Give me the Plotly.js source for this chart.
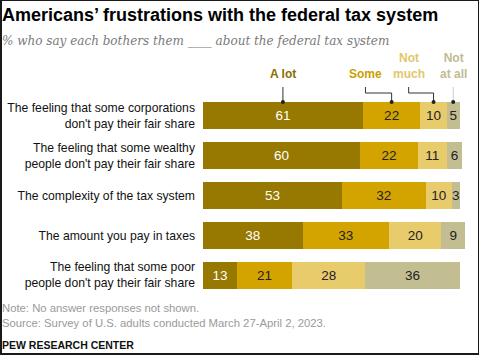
<!DOCTYPE html>
<html>
<head>
<meta charset="utf-8">
<script src="https://cdn.plot.ly/plotly-3.0.1.min.js"></script>
<style>
html,body{margin:0;padding:0;background:#fff;}
#wrap{position:relative;width:479px;height:355px;}
#chart{width:479px;height:355px;}
#frame{position:absolute;left:0;top:0;width:479px;height:355px;box-sizing:border-box;border:1px solid #1a1a1a;border-left-width:2px;border-bottom-width:2px;pointer-events:none;}
</style>
</head>
<body>
<div id="wrap"><div id="chart"></div><div id="frame"></div></div>
<script>
const categories = [
  "The feeling that some corporations<br>don't pay their fair share",
  "The feeling that some wealthy<br>people don't pay their fair share",
  "The complexity of the tax system",
  "The amount you pay in taxes",
  "The feeling that some poor<br>people don't pay their fair share"
];
const seriesNames = ["A lot", "Some", "Not much", "Not at all"];
const aLot     = [61, 60, 53, 38, 13];
const some     = [22, 22, 32, 33, 21];
const notMuch  = [10, 11, 10, 20, 28];
const notAtAll = [5, 6, 3, 9, 36];
const legendLabels = ["A lot", "Some", "Not<br>much", "Not<br>at all"];

const series = [aLot, some, notMuch, notAtAll];
const barColors = ["#977800", "#d3a400", "#e8cb6b", "#c3bd92"];
const textColors = ["#ffffff", "#222222", "#222222", "#222222"];
const labelColors = ["#8a6d00", "#caa000", "#e2c76c", "#c2bb92"];

const traces = series.map((vals, i) => ({
  type: "bar",
  orientation: "h",
  name: seriesNames[i],
  y: categories,
  x: vals,
  marker: {color: barColors[i], line: {width: 0}},
  text: vals.map(String),
  textposition: "inside",
  insidetextanchor: "middle",
  textangle: 0,
  constraintext: "none",
  textfont: {family: "Liberation Sans, Arial, sans-serif", size: 13.5, color: textColors[i]},
  hoverinfo: "none"
}));

// centers of the first bar's segments (data-derived)
const first = series.map(s => s[0]);
const centers = [];
let acc = 0;
first.forEach(v => { centers.push(acc + v / 2); acc += v; });

// pixel -> paper y helper (plot area top=96, bottom=295)
const plotTop = 96, plotBot = 295;
const py = px => (plotBot - px) / (plotBot - plotTop);

const annLabelX = [centers[0], centers[1] - 10, centers[2] - 9.5, centers[3]];
const annotations = [];
annotations.push({xref: "paper", yref: "paper", x: -0.775, y: py(15), xanchor: "left", yanchor: "middle",
  text: "<b>Americans\u2019 frustrations with the federal tax system</b>", showarrow: false,
  font: {family: "Liberation Sans, Arial, sans-serif", size: 18, color: "#000"}});
annotations.push({xref: "paper", yref: "paper", x: -0.775, y: py(41), xanchor: "left", yanchor: "middle",
  text: "<i>% who say each bothers them ____ about the federal tax system</i>", showarrow: false,
  font: {family: "DejaVu Serif, serif", size: 12, color: "#7a7a7a"}});
legendLabels.forEach((t, i) => {
  annotations.push({xref: "x", yref: "paper", x: annLabelX[i], y: py(83), xanchor: "center", yanchor: "bottom",
    text: "<b>" + t + "</b>", showarrow: false,
    font: {family: "Liberation Sans, Arial, sans-serif", size: 12, color: labelColors[i]}});
});
annotations.push({xref: "paper", yref: "paper", x: -0.775, y: py(308), xanchor: "left", yanchor: "middle",
  text: "Note: No answer responses not shown.", showarrow: false,
  font: {family: "Liberation Sans, Arial, sans-serif", size: 11.3, color: "#9a9a9a"}});
annotations.push({xref: "paper", yref: "paper", x: -0.775, y: py(323), xanchor: "left", yanchor: "middle",
  text: "Source: Survey of U.S. adults conducted March 27-April 2, 2023.", showarrow: false,
  font: {family: "Liberation Sans, Arial, sans-serif", size: 11.3, color: "#9a9a9a"}});
annotations.push({xref: "paper", yref: "paper", x: -0.775, y: py(345), xanchor: "left", yanchor: "middle",
  text: "<b>PEW RESEARCH CENTER</b>", showarrow: false,
  font: {family: "Liberation Sans, Arial, sans-serif", size: 10.5, color: "#111"}});

const lineStyle = {color: "#333", width: 1};
const shapes = [];
shapes.push({type: "line", xref: "x", yref: "paper", x0: centers[0], x1: centers[0], y0: py(87), y1: py(102), line: lineStyle});
shapes.push({type: "path", xref: "x", yref: "paper",
  path: `M ${annLabelX[1]} ${py(87)} L ${annLabelX[1]} ${py(93)} L ${centers[1]} ${py(93)} L ${centers[1]} ${py(102)}`,
  line: lineStyle});
shapes.push({type: "path", xref: "x", yref: "paper",
  path: `M ${annLabelX[2]} ${py(87)} L ${annLabelX[2]} ${py(93)} L ${centers[2]} ${py(93)} L ${centers[2]} ${py(102)}`,
  line: lineStyle});
shapes.push({type: "line", xref: "x", yref: "paper", x0: centers[3], x1: centers[3], y0: py(87), y1: py(102), line: {color: "#cccccc", width: 1}});
centers.forEach(c => {
  shapes.push({type: "circle", xref: "x", yref: "paper", xsizemode: "pixel", ysizemode: "pixel",
    xanchor: c, yanchor: py(102), x0: -2, x1: 2, y0: -2, y1: 2,
    fillcolor: "#222", line: {width: 0}});
});

const layout = {
  width: 479, height: 355,
  margin: {l: 203, r: 14, t: plotTop, b: 355 - plotBot, pad: 0},
  barmode: "stack",
  bargap: 0.32,
  showlegend: false,
  paper_bgcolor: "#fff",
  plot_bgcolor: "#fff",
  xaxis: {range: [0, 100], showgrid: false, zeroline: false, showticklabels: false, ticks: "", fixedrange: true},
  yaxis: {autorange: "reversed", showgrid: false, zeroline: false, ticks: "", ticklabelstandoff: 7,
    automargin: false,
    tickfont: {family: "Liberation Sans, Arial, sans-serif", size: 12.2, color: "#111"}},
  annotations: annotations,
  shapes: shapes,
  uniformtext: {mode: false}
};

Plotly.newPlot("chart", traces, layout, {displayModeBar: false, staticPlot: true});
</script>
</body>
</html>
